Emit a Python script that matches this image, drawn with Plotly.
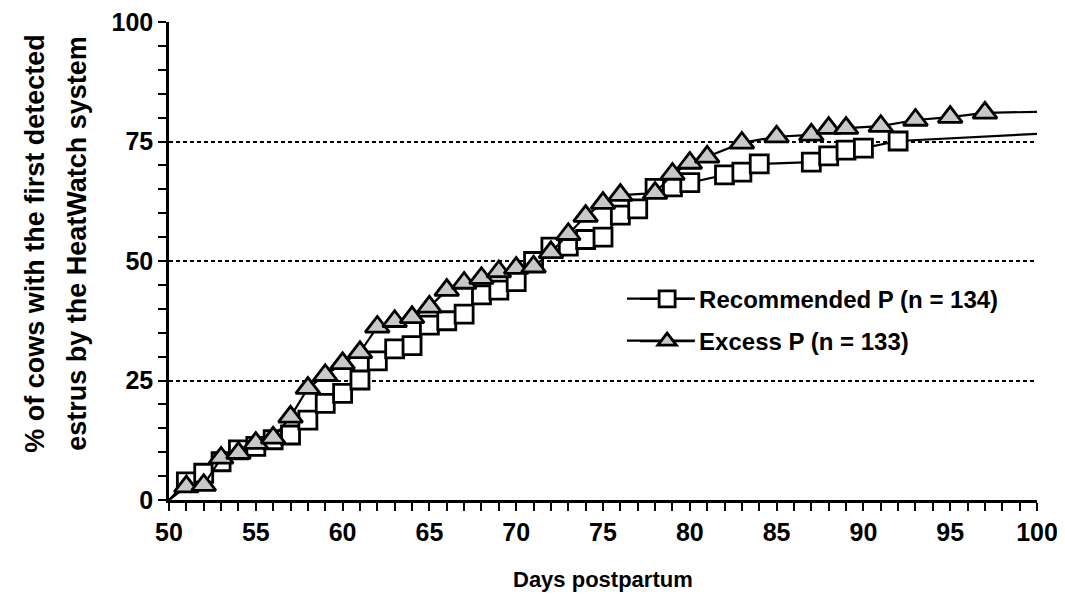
import plotly.graph_objects as go

# ---- data ----
rec_days = [51, 52, 53, 54, 55, 56, 57, 58, 59, 60, 61, 62, 63, 64, 65, 66, 67, 68, 69, 70,
            71, 72, 73, 74, 75, 76, 77, 78, 79, 80, 82, 83, 84, 87, 88, 89, 90, 92]
rec_vals = [3.8, 5.6, 8.0, 10.5, 11.2, 12.6, 13.6, 16.7, 20.2, 22.3, 25.1, 29.1, 31.6, 32.3,
            36.6, 37.5, 38.9, 42.9, 43.9, 45.7, 49.9, 52.9, 53.1, 54.5, 55.0, 59.6, 60.9,
            65.2, 65.5, 66.4, 68.0, 68.6, 70.3, 70.7, 72.0, 73.2, 73.6, 75.1]

exc_days = [51, 52, 53, 54, 55, 56, 57, 58, 59, 60, 61, 62, 63, 64, 65, 66, 67, 68, 69, 70,
            71, 72, 73, 74, 75, 76, 78, 79, 80, 81, 83, 85, 87, 88, 89, 91, 93, 95, 97]
exc_vals = [2.8, 3.1, 8.8, 9.8, 11.9, 13.0, 17.4, 23.4, 26.1, 28.6, 30.9, 36.2, 37.4, 38.2,
            40.4, 43.9, 45.4, 46.4, 47.8, 48.5, 48.8, 51.8, 55.6, 59.4, 62.1, 63.8, 64.2,
            68.2, 70.5, 71.8, 74.7, 76.0, 76.4, 77.8, 77.8, 78.2, 79.5, 80.1, 81.0]

start_day, start_val = 50, 0
rec_end_day, rec_end_val = 100, 76.6
exc_end_day, exc_end_val = 100, 81.2

rec_name = "Recommended P (n = 134)"
exc_name = "Excess P (n = 133)"
x_title = "Days postpartum"
y_title_lines = ["% of cows with the first detected", "estrus by the HeatWatch system"]

FONT = "Liberation Sans, Arial, sans-serif"
LW = 2.2

fig = go.Figure()

# extension lines (origin -> first point, last point -> right edge)
for xs, ys in [([start_day, rec_days[0]], [start_val, rec_vals[0]]),
               ([rec_days[-1], rec_end_day], [rec_vals[-1], rec_end_val]),
               ([start_day, exc_days[0]], [start_val, exc_vals[0]]),
               ([exc_days[-1], exc_end_day], [exc_vals[-1], exc_end_val])]:
    fig.add_trace(go.Scatter(x=xs, y=ys, mode="lines", line=dict(color="black", width=LW),
                             showlegend=False, hoverinfo="skip"))

fig.add_trace(go.Scatter(
    x=rec_days, y=rec_vals, mode="lines+markers", name=rec_name, legendgroup="a",
    line=dict(color="black", width=LW),
    marker=dict(symbol="square", size=18, color="white", line=dict(color="black", width=2.8)),
))
fig.add_trace(go.Scatter(
    x=exc_days, y=exc_vals, mode="lines+markers", name=exc_name, legendgroup="b",
    line=dict(color="black", width=LW),
    marker=dict(symbol="triangle-up", size=21, color="#c8c8c8", line=dict(color="black", width=2.8)),
))

fig.update_layout(
    width=1049, height=599,
    margin=dict(l=161, r=20, t=14, b=107, autoexpand=False),
    paper_bgcolor="white", plot_bgcolor="white",
    font=dict(family=FONT, color="black"),
    showlegend=True,
    legend=dict(x=0.537, y=0.467, xanchor="left", yanchor="top",
                bgcolor="rgba(0,0,0,0)", tracegroupgap=8, itemwidth=54,
                font=dict(family=FONT, size=24, weight="bold", color="black")),
    xaxis=dict(range=[50, 100], tickmode="linear", tick0=50, dtick=5,
               ticks="outside", ticklen=8, tickwidth=2, tickcolor="black",
               showline=True, linecolor="black", linewidth=2.5,
               showgrid=False, zeroline=False, ticklabelstandoff=0,
               ticklabeloverflow="allow", automargin=False,
               tickfont=dict(family=FONT, size=25, weight="bold", color="black"),
               minor=dict(dtick=1, ticks="outside", ticklen=8, tickwidth=2, tickcolor="black",
                          showgrid=False)),
    yaxis=dict(range=[0, 100], tickmode="linear", tick0=0, dtick=25,
               ticks="outside", ticklen=8, tickwidth=2, tickcolor="black",
               showline=True, linecolor="black", linewidth=2.5,
               showgrid=True, gridcolor="black", gridwidth=2, griddash="4px,3px",
               zeroline=False, ticklabeloverflow="allow", automargin=False,
               tickfont=dict(family=FONT, size=25, weight="bold", color="black"),
               minor=dict(dtick=5, ticks="outside", ticklen=8, tickwidth=2, tickcolor="black",
                          showgrid=False)),
)

# longer legend key lines, as in the original
for yk in (0.4212, 0.3333):
    fig.add_shape(type="line", xref="paper", yref="paper", x0=0.5276, x1=0.6060, y0=yk, y1=yk,
                  line=dict(color="black", width=LW), layer="above")

annotations = [
    dict(text=x_title, xref="paper", yref="paper", x=0.5, y=-0.167, xanchor="center",
         yanchor="middle", showarrow=False,
         font=dict(family=FONT, size=22, weight="bold", color="black")),
    dict(text=y_title_lines[0], xref="paper", yref="paper", x=-0.1544, y=0.538, textangle=-90,
         xanchor="center", yanchor="middle", showarrow=False,
         font=dict(family=FONT, size=27, weight="bold", color="black")),
    dict(text=y_title_lines[1], xref="paper", yref="paper", x=-0.106, y=0.538, textangle=-90,
         xanchor="center", yanchor="middle", showarrow=False,
         font=dict(family=FONT, size=27, weight="bold", color="black")),
]
fig.update_layout(annotations=annotations)

fig.write_html("out.html")
